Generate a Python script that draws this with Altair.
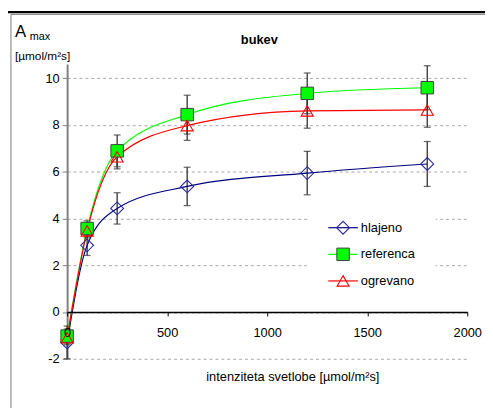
import altair as alt
import pandas as pd

# ---- data ----
light = [0, 100, 250, 600, 1200, 1800]
series_names = ["hlajeno", "referenca", "ogrevano"]
hlajeno = [-1.3, 2.85, 4.43, 5.37, 5.94, 6.33]
hlajeno_err = [0.7, 0.43, 0.67, 0.82, 0.93, 0.96]
referenca = [-1.03, 3.57, 6.89, 8.44, 9.35, 9.59]
referenca_err = [0.3, 0.33, 0.68, 0.83, 0.87, 0.94]
ogrevano = [-1.1, 3.47, 6.64, 7.97, 8.6, 8.64]
ogrevano_err = [0.3, 0.3, 0.52, 0.63, 0.74, 0.74]
x_ticks = [0, 500, 1000, 1500, 2000]
y_ticks = [-2, 0, 2, 4, 6, 8, 10]

FONT = "Liberation Sans"

rows = []
for name, vals, errs in [("hlajeno", hlajeno, hlajeno_err),
                         ("referenca", referenca, referenca_err),
                         ("ogrevano", ogrevano, ogrevano_err)]:
    for xv, v, e in zip(light, vals, errs):
        rows.append({"series": name, "x": xv, "y": v, "lo": v - e, "hi": v + e})
df = pd.DataFrame(rows)

W, H = 406, 299
xs = alt.Scale(domain=[0, 2000], nice=False, zero=False)
ys = alt.Scale(domain=[-2, 10.6], nice=False, zero=False)

x_axis = alt.Axis(values=x_ticks, title=None, offset=-47.5, domainColor="#000000",
                  domainWidth=1.5, tickColor="#000000", tickSize=4, labelPadding=11,
                  labelFont=FONT, labelFontSize=13, labelColor="#000000",
                  labelExpr="'' + datum.value",
                  labelFlush=False, labelOverlap=False, grid=False, zindex=1)
y_axis = alt.Axis(values=y_ticks, title=None, domainColor="#808080", domainWidth=2,
                  tickColor="#808080", tickSize=5, labelPadding=3, labelFont=FONT,
                  labelFontSize=13, labelColor="#000000", labelFlush=False,
                  labelExpr="'' + datum.value",
                  grid=True, gridColor="#a8a8a8", gridDash=[3, 3], gridWidth=1)

X = alt.X("x:Q", scale=xs, axis=x_axis)
Y = alt.Y("y:Q", scale=ys, axis=y_axis)

base = alt.Chart(df)

err_rule = base.mark_rule(color="#303030", strokeWidth=1.3).encode(
    x=X, y=alt.Y("lo:Q", scale=ys, axis=y_axis), y2="hi:Q")
err_lo = base.mark_tick(orient="horizontal", color="#303030", size=7, thickness=1.3).encode(
    x=X, y=alt.Y("lo:Q", scale=ys, axis=y_axis))
err_hi = base.mark_tick(orient="horizontal", color="#303030", size=7, thickness=1.3).encode(
    x=X, y=alt.Y("hi:Q", scale=ys, axis=y_axis))

line_colors = {"hlajeno": "#000080", "referenca": "#00ff00", "ogrevano": "#ff0000"}
lines = []
for s in series_names:
    lines.append(base.transform_filter(alt.datum.series == s)
                 .mark_line(color=line_colors[s], strokeWidth=1.2, interpolate="monotone")
                 .encode(x=X, y=Y, order="x:Q"))

pt_h = base.transform_filter(alt.datum.series == "hlajeno").mark_point(
    shape="diamond", filled=False, stroke="#2828a0", strokeWidth=1.1, size=170, opacity=1
).encode(x=X, y=Y)
pt_r = base.transform_filter(alt.datum.series == "referenca").mark_point(
    shape="square", filled=True, fill="#00ff00", stroke="#404040", strokeWidth=1,
    size=160, opacity=1
).encode(x=X, y=Y)
pt_o = base.transform_filter(alt.datum.series == "ogrevano").mark_point(
    shape="triangle-up", filled=False, stroke="#ff0000", strokeWidth=1.1, size=150, opacity=1
).encode(x=X, y=Y)

one = pd.DataFrame({"k": [0]})


def txt(s, x, y, size=13, weight="normal", align="left", baseline="alphabetic"):
    return alt.Chart(one).mark_text(text=s, font=FONT, fontSize=size, fontWeight=weight,
                                    align=align, baseline=baseline, color="#000000").encode(
        x=alt.value(x), y=alt.value(y))


def rule(x, x2, y, y2, color, width):
    return alt.Chart(one).mark_rule(color=color, strokeWidth=width).encode(
        x=alt.value(x), x2=alt.value(x2), y=alt.value(y), y2=alt.value(y2))


# legend (inside plot)
legend_bg = alt.Chart(one).mark_rect(color="#ffffff").encode(
    x=alt.value(244), x2=alt.value(374), y=alt.value(143), y2=alt.value(233))
leg = [legend_bg]
leg_y = [166, 193, 220]
leg_styles = [
    dict(shape="diamond", filled=False, stroke="#2828a0", strokeWidth=1.1, size=170),
    dict(shape="square", filled=True, fill="#00ff00", stroke="#404040", strokeWidth=1, size=160),
    dict(shape="triangle-up", filled=False, stroke="#ff0000", strokeWidth=1.1, size=150),
]
for s, ly, st in zip(series_names, leg_y, leg_styles):
    leg.append(rule(265, 295, ly, ly, line_colors[s], 1.2))
    leg.append(alt.Chart(one).mark_point(opacity=1, **st).encode(
        x=alt.value(280), y=alt.value(ly)))
    leg.append(txt(s, 298, ly, size=13, baseline="middle"))

texts = [
    txt("bukev", 195, -20, size=13, weight="bold", align="center"),
    txt("A", -53, -27.5, size=17),
    txt("max", -38, -24.5, size=11),
    txt("[\u00b5mol/m\u00b2s]", -53, -4, size=12),
    txt("intenziteta svetlobe [\u00b5mol/m\u00b2s]", 229, 322, size=13, align="center"),
]

frame = [
    rule(-60, 426, -52.75, -52.75, "#000000", 2.5),
    rule(-57, 426, -50.5, -50.5, "#909090", 1.2),
    rule(-57, -57, -50.5, 350, "#909090", 1.2),
]

chart = alt.layer(
    err_rule, err_lo, err_hi, *lines, pt_h, pt_r, pt_o, *leg, *texts, *frame
).properties(
    width=W, height=H,
    autosize=alt.AutoSizeParams(type="none"),
    padding={"left": 60, "top": 54, "right": 18, "bottom": 47},
    background="#ffffff",
).configure_view(stroke=None)

chart.save("out.html", embed_options={"renderer": "svg", "actions": False})
